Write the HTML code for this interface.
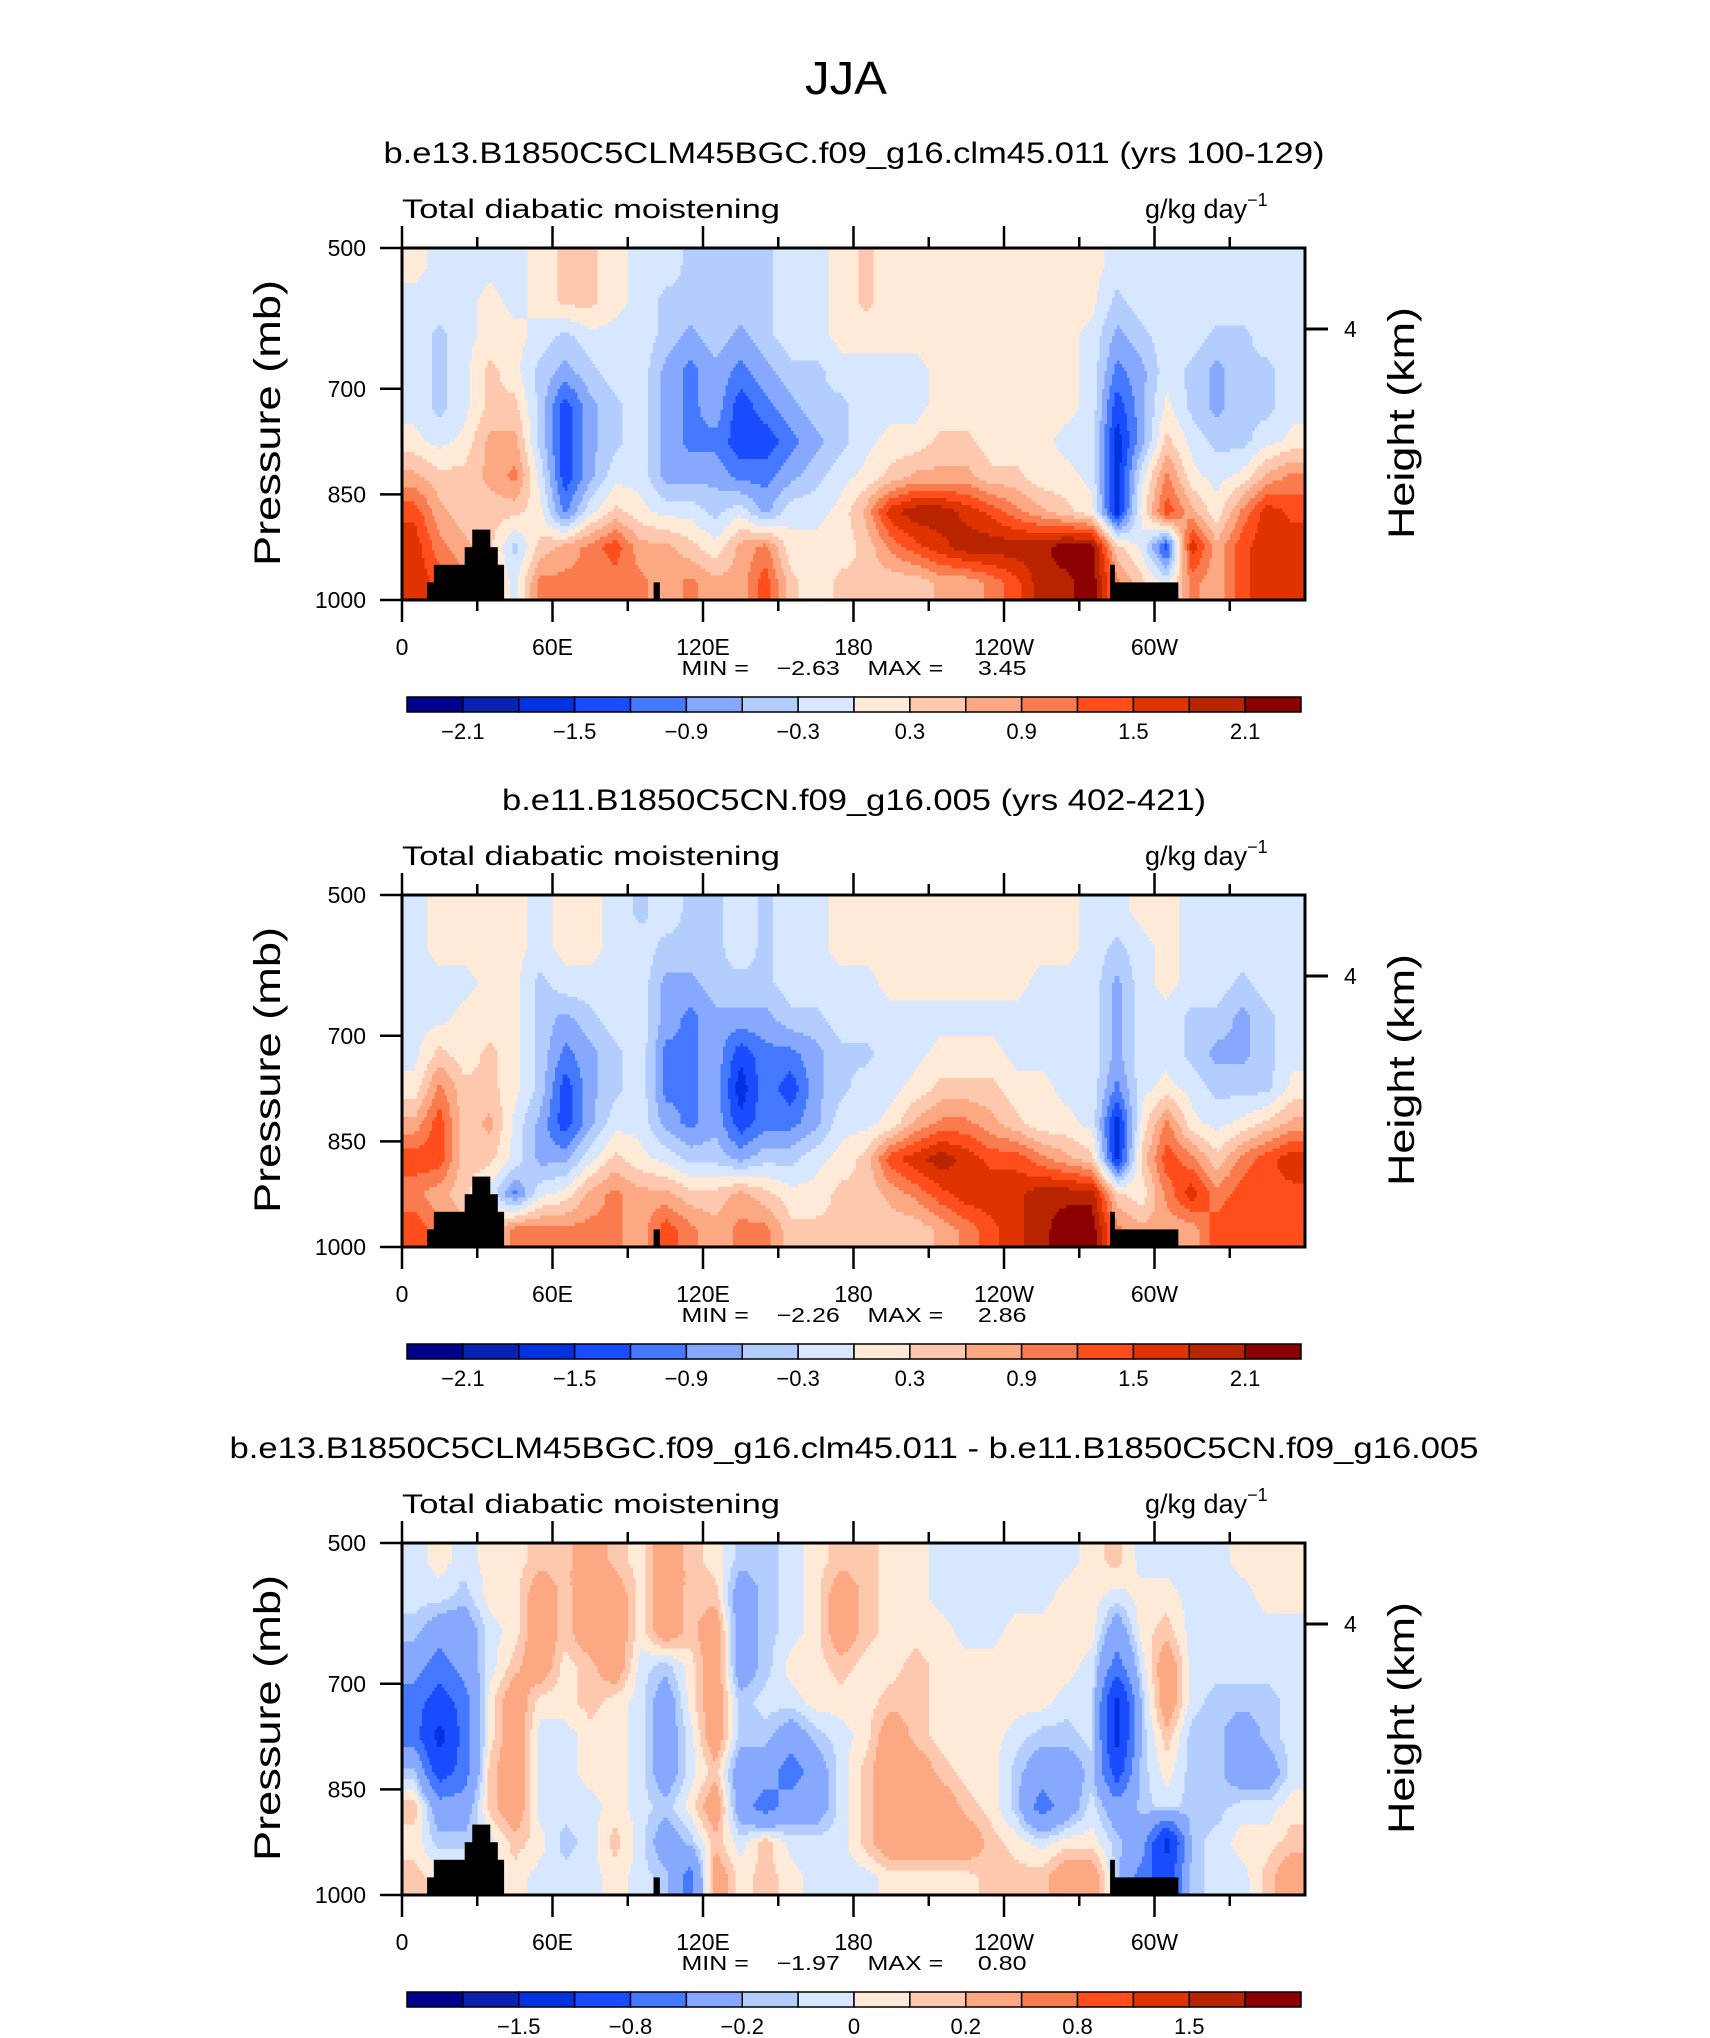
<!DOCTYPE html>
<html><head><meta charset="utf-8"><style>
html,body{margin:0;padding:0;background:#fff;}
svg{display:block;}
text{font-family:"Liberation Sans",sans-serif;fill:#000;}
.pre{white-space:pre;}
</style></head>
<body>
<svg id="fig" width="1710" height="2038" viewBox="0 0 1710 2038" xmlns="http://www.w3.org/2000/svg">
<rect x="0" y="0" width="1710" height="2038" fill="#fff"/>
<text x="846" y="94" font-size="46" font-weight="300" text-anchor="middle" textLength="82" lengthAdjust="spacingAndGlyphs">JJA</text>
</svg>
<script>
// ---- data ----
const lonCenters = [5,15,25,35,45,55,65,75,85,95,105,115,125,135,145,155,165,175,185,195,205,215,225,235,245,255,265,275,285,295,305,315,325,335,345,355];
const presCenters = [525,575,625,675,725,775,825,875,925,975];
const xTickLons = [0,60,120,180,240,300];
const xTickLabels = ["0","60E","120E","180","120W","60W"];
const yTickPres = [500,700,850,1000];
const yTickLabels = ["500","700","850","1000"];
const levelsAbs = [-2.1,-1.8,-1.5,-1.2,-0.9,-0.6,-0.3,0,0.3,0.6,0.9,1.2,1.5,1.8,2.1];
const levelsDiff = [-2,-1.5,-1.2,-0.8,-0.5,-0.2,-0.1,0,0.1,0.2,0.5,0.8,1.2,1.5,2];
const cbLabelsAbs = ["\u22122.1","\u22121.5","\u22120.9","\u22120.3","0.3","0.9","1.5","2.1"];
const cbLabelsDiff = ["\u22121.5","\u22120.8","\u22120.2","0","0.2","0.8","1.5"];
const topoLon0 = [10,12.7,25,28,35,38,100.3,282.3,284];
const topoLon1 = [12.7,25,28,35,38,40.5,102.6,284,309.3];
const topoPs = [975,950,925,900,925,950,975,950,975];
const field1 = [
[0.1,-0.1,-0.1,-0.1,-0.1,0.1,0.4,0.4,0.1,-0.1,-0.1,-0.4,-0.4,-0.4,-0.4,-0.1,-0.1,0.1,0.4,0.1,0.1,0.1,0.1,0.1,0.1,0.1,0.1,0.1,-0.1,-0.1,-0.1,-0.1,-0.1,-0.1,-0.1,-0.1],
[-0.1,-0.1,-0.1,0.1,-0.1,0.1,0.4,0.4,0.1,-0.1,-0.4,-0.4,-0.4,-0.4,-0.4,-0.1,-0.1,0.1,0.4,0.1,0.1,0.1,0.1,0.1,0.1,0.1,0.1,0.1,-0.4,-0.1,-0.1,-0.1,-0.1,-0.1,-0.1,-0.1],
[-0.1,-0.4,-0.1,0.1,0.1,-0.1,-0.4,-0.1,-0.1,-0.1,-0.4,-0.7,-0.4,-0.7,-0.4,-0.1,-0.1,0.1,0.1,0.1,0.1,0.1,0.1,0.1,0.1,0.1,0.1,-0.1,-0.7,-0.4,-0.1,-0.1,-0.4,-0.4,-0.1,-0.1],
[-0.1,-0.4,-0.1,0.4,0.1,-0.4,-0.7,-0.4,-0.1,-0.1,-0.7,-1.0,-0.7,-1.0,-0.7,-0.4,-0.4,-0.1,-0.1,-0.1,-0.1,0.1,0.1,0.1,0.1,0.1,0.1,-0.1,-1.0,-0.7,-0.1,-0.4,-0.7,-0.4,-0.4,-0.1],
[-0.1,-0.4,-0.1,0.4,0.4,-0.4,-1.4,-0.7,-0.4,-0.1,-0.7,-1.0,-0.7,-1.4,-1.0,-0.7,-0.4,-0.4,-0.1,-0.1,-0.1,0.1,0.1,0.1,0.1,0.1,0.1,-0.1,-1.4,-0.7,0.1,-0.4,-0.7,-0.4,-0.4,-0.1],
[0.1,-0.1,0.1,0.7,0.7,-0.4,-1.4,-0.7,-0.4,-0.1,-0.7,-1.0,-1.0,-1.4,-1.4,-1.0,-0.7,-0.4,-0.1,0.1,0.1,0.4,0.4,0.1,0.1,0.1,-0.1,-0.1,-1.7,-0.7,0.4,-0.1,-0.4,-0.4,-0.1,0.1],
[0.7,0.4,0.4,0.7,1.0,-0.1,-1.4,-0.7,-0.1,-0.1,-0.7,-0.7,-0.7,-1.0,-1.0,-0.7,-0.4,-0.1,0.1,0.4,0.7,0.7,0.7,0.4,0.4,0.1,0.1,-0.1,-1.7,-0.1,1.0,0.1,-0.1,0.1,0.7,1.0],
[1.4,0.7,0.4,0.4,0.4,0.1,-1.0,-0.1,0.4,0.1,-0.1,-0.1,-0.4,-0.1,-0.7,-0.1,-0.1,0.1,0.7,1.7,2.0,2.0,1.7,1.4,1.0,0.7,0.4,0.1,-1.7,0.1,1.4,0.7,0.1,1.0,1.7,1.4],
[1.7,1.0,0.7,0.4,-0.4,0.4,0.7,1.0,1.4,0.7,0.7,0.4,0.1,0.7,1.0,0.1,0.1,0.1,0.4,1.0,1.4,1.7,2.0,2.0,2.0,2.0,2.3,2.3,0.4,-0.1,-1.4,1.7,0.7,1.4,1.7,1.7],
[1.7,1.4,1.0,0.4,-0.1,1.0,1.0,1.0,1.0,1.0,0.7,1.0,0.7,0.7,1.4,0.4,0.1,0.4,0.4,0.4,0.4,0.7,0.7,1.0,1.4,2.0,2.0,2.3,1.0,0.4,-0.1,1.0,0.7,1.4,1.7,1.7]
];
const field2 = [
[-0.1,0.1,0.1,0.1,0.1,-0.1,0.1,0.1,-0.1,-0.4,-0.1,-0.4,-0.4,-0.1,-0.4,-0.1,-0.1,0.1,0.1,0.1,0.1,0.1,0.1,0.1,0.1,0.1,0.1,-0.1,-0.1,0.1,0.1,-0.1,-0.1,-0.1,-0.1,-0.1],
[-0.1,0.1,0.1,0.1,0.1,-0.1,0.1,0.1,-0.1,-0.1,-0.4,-0.4,-0.4,-0.1,-0.4,-0.1,-0.1,0.1,0.1,0.1,0.1,0.1,0.1,0.1,0.1,0.1,0.1,-0.1,-0.4,-0.1,0.1,-0.1,-0.1,-0.1,-0.1,-0.1],
[-0.1,-0.1,-0.1,0.1,0.1,-0.4,-0.1,-0.1,-0.1,-0.1,-0.7,-0.7,-0.4,-0.4,-0.4,-0.1,-0.1,-0.1,-0.1,0.1,0.1,0.1,0.1,0.1,0.1,-0.1,-0.1,-0.1,-0.7,-0.1,0.1,-0.1,-0.1,-0.4,-0.1,-0.1],
[-0.1,-0.1,0.1,0.1,0.1,-0.4,-0.7,-0.4,-0.1,-0.1,-0.7,-1.0,-0.7,-0.7,-0.7,-0.4,-0.4,-0.1,-0.1,-0.1,-0.1,-0.1,-0.1,-0.1,-0.1,-0.1,-0.1,-0.1,-0.7,-0.1,-0.1,-0.4,-0.4,-0.7,-0.4,-0.1],
[-0.1,0.4,0.1,0.4,0.1,-0.4,-1.0,-0.7,-0.4,-0.1,-1.0,-1.0,-0.7,-1.4,-1.0,-1.0,-0.7,-0.4,-0.4,-0.1,-0.1,0.1,0.1,0.1,-0.1,-0.1,-0.1,-0.1,-0.7,-0.1,-0.1,-0.4,-0.7,-0.7,-0.4,-0.1],
[0.1,1.0,0.4,0.4,0.1,-0.4,-1.4,-0.7,-0.4,-0.1,-1.0,-1.0,-0.7,-1.7,-1.0,-1.4,-0.7,-0.4,-0.1,-0.1,0.1,0.4,0.4,0.4,0.1,0.1,-0.1,-0.1,-1.0,-0.1,0.1,-0.1,-0.4,-0.4,-0.4,0.1],
[0.7,1.4,0.4,0.7,-0.1,-0.7,-1.4,-0.7,-0.1,-0.1,-0.7,-1.0,-0.7,-1.4,-1.0,-1.0,-0.7,-0.1,-0.1,0.1,0.7,1.0,1.0,0.7,0.4,0.1,0.1,-0.1,-1.7,0.1,1.0,0.1,-0.1,0.1,0.4,0.7],
[1.4,1.4,0.4,0.4,-0.1,-0.7,-0.7,-0.1,0.4,0.1,-0.1,-0.4,-0.4,-0.7,-0.4,-0.4,-0.1,0.1,0.4,1.4,1.7,2.0,1.7,1.4,1.4,1.0,0.7,0.4,-1.7,0.4,1.4,1.0,0.4,1.0,1.4,1.7],
[1.0,0.7,0.4,-0.1,-1.0,-0.1,0.1,0.7,1.0,0.7,0.7,0.4,0.4,0.7,0.4,0.1,0.1,0.4,0.4,0.7,1.0,1.4,1.7,1.7,1.7,2.0,2.0,2.0,0.4,0.1,1.0,1.7,1.0,1.4,1.4,1.4],
[1.4,1.0,0.7,0.4,1.0,1.0,1.0,1.0,1.0,0.7,1.4,1.0,0.7,1.0,1.0,0.4,0.4,0.4,0.4,0.4,0.4,0.7,1.0,1.4,1.7,2.0,2.3,2.3,1.0,0.7,0.7,0.7,1.4,1.4,1.4,1.4]
];
const field3 = [
[-0.05,0.05,-0.05,0.05,0.05,0.15,0.15,0.35,0.15,0.05,0.35,0.15,0.05,-0.15,-0.15,-0.05,0.05,0.15,0.15,0.05,0.05,-0.05,-0.05,-0.05,-0.05,-0.05,-0.05,0.05,0.15,-0.05,-0.05,-0.05,-0.05,0.05,0.05,0.05],
[-0.05,-0.05,-0.15,0.05,0.05,0.35,0.15,0.35,0.35,0.05,0.35,0.15,0.15,-0.35,-0.15,-0.05,0.05,0.35,0.15,0.05,0.05,-0.05,-0.05,-0.05,-0.05,-0.05,0.05,0.05,-0.05,0.05,0.05,-0.05,-0.05,-0.05,0.05,0.05],
[-0.15,-0.35,-0.35,-0.05,0.05,0.35,0.15,0.35,0.35,0.05,0.35,0.15,0.35,-0.35,-0.15,-0.05,0.05,0.35,0.15,0.05,0.05,0.05,-0.05,-0.05,0.05,0.05,0.05,0.05,-0.35,0.05,0.15,-0.05,-0.05,-0.05,-0.05,-0.05],
[-0.35,-0.65,-0.35,-0.05,0.15,0.35,0.05,0.15,0.35,-0.05,-0.15,0.05,0.35,-0.35,-0.15,0.05,0.05,0.15,0.05,0.05,0.15,0.05,0.05,0.05,0.05,0.05,0.05,-0.05,-0.65,-0.05,0.35,-0.05,-0.05,-0.05,-0.05,-0.05],
[-0.65,-1.0,-0.65,0.05,0.35,0.05,0.05,0.15,0.05,-0.05,-0.35,0.05,0.35,-0.15,-0.05,-0.05,0.05,0.05,0.05,0.15,0.15,0.05,0.05,0.05,0.05,0.05,-0.05,-0.05,-1.35,-0.15,0.35,-0.05,-0.15,-0.15,-0.15,-0.05],
[-0.65,-1.35,-0.65,0.05,0.35,-0.05,-0.05,0.05,0.05,-0.05,-0.35,-0.05,0.35,-0.15,-0.15,-0.35,-0.15,-0.05,0.05,0.35,0.15,0.05,0.05,0.05,-0.05,-0.15,-0.15,-0.05,-1.35,-0.15,0.15,-0.15,-0.15,-0.35,-0.15,-0.05],
[-0.15,-1.0,-0.65,0.15,0.35,-0.05,-0.05,0.05,0.05,-0.05,-0.35,-0.05,0.15,-0.35,-0.35,-0.65,-0.35,-0.05,0.15,0.35,0.35,0.15,0.05,0.05,-0.15,-0.35,-0.35,-0.15,-1.0,-0.15,0.05,-0.15,-0.15,-0.35,-0.35,-0.05],
[0.15,-0.35,-0.35,0.15,0.35,-0.05,-0.05,-0.05,0.05,-0.05,-0.15,0.05,0.35,-0.35,-0.65,-0.35,-0.35,-0.05,0.15,0.35,0.35,0.35,0.15,0.05,-0.15,-0.65,-0.35,-0.05,-0.35,-0.15,-0.05,-0.15,-0.15,-0.05,-0.05,0.05],
[0.05,-0.15,-0.15,-0.05,0.15,0.05,-0.15,-0.05,0.15,-0.05,-0.35,-0.15,0.15,-0.05,0.15,-0.05,-0.05,-0.05,0.15,0.35,0.35,0.35,0.35,0.15,0.05,-0.05,0.05,0.05,-0.15,-0.35,-1.35,-0.15,-0.05,0.05,0.05,0.15],
[0.15,0.05,0.05,0.05,0.05,-0.05,-0.05,-0.05,0.05,-0.05,-0.15,-0.65,0.35,0.05,0.15,0.05,-0.05,-0.05,-0.05,0.05,0.05,0.05,0.05,0.15,0.15,0.15,0.35,0.35,-0.15,-0.65,-1.0,-0.15,-0.05,-0.05,0.15,0.35]
];
const panelTitles = ["b.e13.B1850C5CLM45BGC.f09_g16.clm45.011 (yrs 100-129)","b.e11.B1850C5CN.f09_g16.005 (yrs 402-421)","b.e13.B1850C5CLM45BGC.f09_g16.clm45.011 - b.e11.B1850C5CN.f09_g16.005"];
const titleWidths = [941,704,1249];
const minVals = ["-2.63","-2.26","-1.97"];
const maxVals = ["3.45","2.86","0.80"];

// ---- style ----
const colors = ["#00008a","#0a22b2","#0032e0","#1a4cff","#4478ff","#86a8ff","#b4cdff","#d6e7ff","#ffe9d7","#fdc8ae","#fca882","#fa7b4d","#ff4d1c","#e03400","#b82300","#8b0000"];
const SVGNS="http://www.w3.org/2000/svg";
const svg=document.getElementById('fig');
const X0=402, X1=1305, PH=352;
const tops=[248,895,1543];
function el(tag,attrs,parent){const e=document.createElementNS(SVGNS,tag);for(const k in attrs)e.setAttribute(k,attrs[k]);(parent||svg).appendChild(e);return e;}
function xOf(lon){return X0+(lon/360)*(X1-X0);}
function colorIdx(v,lv){let i=0;while(i<lv.length&&v>=lv[i])i++;return i;}
function sample(f,lon,p){
  let fx=(lon-5)/10, fy=(p-525)/50;
  fx=Math.max(0,Math.min(35,fx)); fy=Math.max(0,Math.min(9,fy));
  const i0=Math.floor(fx), j0=Math.floor(fy), i1=Math.min(35,i0+1), j1=Math.min(9,j0+1);
  const tx=fx-i0, ty=fy-j0;
  const a=f[j0][i0]*(1-tx)+f[j0][i1]*tx, b=f[j1][i0]*(1-tx)+f[j1][i1]*tx;
  return a*(1-ty)+b*ty;
}
function drawPanel(k,f,lv,cbLabels){
  const T=tops[k], B=T+PH;
  const yOf=p=>T+(p-500)/500*PH;
  const g=el('g',{});
  
  
  const t=el('text',{x:854,y:T-85,'font-size':30,'text-anchor':'middle',textLength:titleWidths[k],lengthAdjust:'spacingAndGlyphs'},g);
  
  
  t.textContent=panelTitles[k];
  const tl=el('text',{x:X0,y:T-30,'font-size':27,textLength:378,lengthAdjust:'spacingAndGlyphs'},g);
  
  
  tl.textContent='Total diabatic moistening';
  const ul=el('text',{x:1145,y:T-30,'font-size':27},g);
  
  
  ul.innerHTML='g/kg day<tspan dy="-12" font-size="18">\u22121</tspan>';
  const fg=el('g',{'shape-rendering':'crispEdges'},g);
  
  
  const NX=360, NY=100, dx=(X1-X0)/NX, dy=PH/NY;
  for(let j=0;j<NY;j++){
    const p=500+(j+0.5)*5;
    let start=0, cur=colorIdx(sample(f,0.5,p),lv);
    for(let i=1;i<=NX;i++){
      const c=i<NX?colorIdx(sample(f,i+0.5,p),lv):-1;
      if(c!==cur){
        const r=el('rect',{x:(X0+start*dx).toFixed(2),y:(T+j*dy).toFixed(2),width:((i-start)*dx+0.6).toFixed(2),height:(dy+0.6).toFixed(2),fill:colors[cur]},fg);
        
        
        start=i;cur=c;
      }
    }
  }
  for(let m=0;m<topoLon0.length;m++){
    const r=el('rect',{x:xOf(topoLon0[m]),y:yOf(topoPs[m]),width:xOf(topoLon1[m])-xOf(topoLon0[m])+0.5,height:B-yOf(topoPs[m]),fill:'#000'},g);
    
    
  }
  const fr=el('rect',{x:X0,y:T,width:X1-X0,height:PH,fill:'none',stroke:'#000','stroke-width':3},g);
  
  
  for(let lon=0;lon<=330;lon+=30){
    const major=lon%60===0, L=major?22:11, x=xOf(lon);
    const a=el('line',{x1:x,y1:T,x2:x,y2:T-L,stroke:'#000','stroke-width':2.5},g);
    
    
    const b=el('line',{x1:x,y1:B,x2:x,y2:B+L,stroke:'#000','stroke-width':2.5},g);
    
    
  }
  xTickLons.forEach((lon,i)=>{
    const tx=el('text',{x:xOf(lon),y:B+55,'font-size':23,'text-anchor':'middle'},g);
    
    
    tx.textContent=xTickLabels[i];
  });
  yTickPres.forEach((p,i)=>{
    const y=yOf(p);
    const a=el('line',{x1:X0,y1:y,x2:X0-22,y2:y,stroke:'#000','stroke-width':2.5},g);
    
    
    const ty=el('text',{x:366,y:y+8,'font-size':23,'text-anchor':'end'},g);
    
    
    ty.textContent=yTickLabels[i];
  });
  const hy=T+81;
  const rt=el('line',{x1:X1,y1:hy,x2:X1+23,y2:hy,stroke:'#000','stroke-width':3},g);
  
  
  const rl=el('text',{x:1344,y:hy+8,'font-size':23},g);
  
  
  rl.textContent='4';
  const yl=el('text',{x:0,y:0,'font-size':37,'text-anchor':'middle',textLength:286,lengthAdjust:'spacingAndGlyphs',transform:'translate(280,'+(T+175)+') rotate(-90)'},g);
  
  
  yl.textContent='Pressure  (mb)';
  const hl=el('text',{x:0,y:0,'font-size':37,'text-anchor':'middle',textLength:232,lengthAdjust:'spacingAndGlyphs',transform:'translate(1414,'+(T+175)+') rotate(-90)'},g);
  
  
  hl.textContent='Height  (km)';
  const mm=el('text',{x:854,y:B+75,'font-size':20,'text-anchor':'middle',textLength:345,lengthAdjust:'spacingAndGlyphs','class':'pre'},g);
  
  
  mm.textContent='MIN =    '+minVals[k].replace('-','\u2212')+'    MAX =     '+maxVals[k];
  const cbx0=407, cbx1=1301, cby=B+97, cbh=15, bw=(cbx1-cbx0)/16;
  const cb=el('g',{},g);
  
  
  for(let i=0;i<16;i++){
    const r=el('rect',{x:cbx0+i*bw,y:cby,width:bw,height:cbh,fill:colors[i],stroke:'#000','stroke-width':1.5},cb);
    
    
  }
  const off=(lv===levelsAbs)?1:2;
  cbLabels.forEach((s,i)=>{
    const b=off+i*2;
    const tx=el('text',{x:cbx0+b*bw,y:cby+cbh+27,'font-size':22,'text-anchor':'middle'},cb);
    
    
    tx.textContent=s;
  });
}
drawPanel(0,field1,levelsAbs,cbLabelsAbs);
drawPanel(1,field2,levelsAbs,cbLabelsAbs);
drawPanel(2,field3,levelsDiff,cbLabelsDiff);
</script>
</body></html>
